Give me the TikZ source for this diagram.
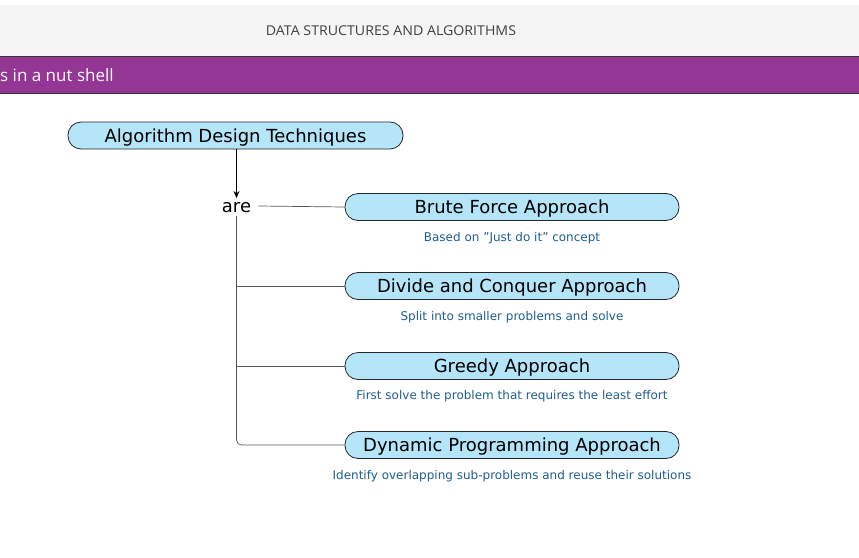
\documentclass[tikz,border=0pt]{standalone}
\usepackage{fontspec}
\setmainfont{DejaVu Sans}
\newfontfamily\headfont[FakeStretch=1.05]{Open Sans}
\newfontfamily\subfont{Open Sans}
\usetikzlibrary{arrows.meta}
\definecolor{nodefill}{HTML}{B5E5F9}
\definecolor{purpleband}{HTML}{943694}
\definecolor{descblue}{HTML}{1F5E8E}
\definecolor{linegray}{HTML}{555555}
\tikzset{
  x=1pt, y=-1pt,
  concept/.style={draw=black!85, fill=nodefill, rounded corners=13pt, minimum width=334pt, minimum height=27pt, inner sep=0pt, text height=13.5pt, text depth=0pt, font=\fontsize{18}{20}\selectfont, line width=0.8pt},
  desc/.style={text=descblue, font=\fontsize{12}{14}\selectfont, inner sep=0pt},
  link/.style={draw=linegray, line width=0.7pt},
}
\begin{document}
\begin{tikzpicture}
\useasboundingbox (0,0) rectangle (859,557);
\fill[white] (0,0) rectangle (859,557);
% header
\fill[black!4] (0,5) rectangle (859,56);
\node[text=black!75, font=\headfont\fontsize{13.5}{15}\selectfont] (hdr) at (391,31) {DATA STRUCTURES AND ALGORITHMS};
\fill[purpleband] (0,56) rectangle (859,93);
\draw[black!80, line width=0.8pt] (0,56) -- (859,56);
\draw[black!80, line width=0.8pt] (0,93) -- (859,93);
\node[anchor=west, text=white, font=\subfont\fontsize{17}{18}\selectfont, inner sep=0pt] (sub) at (0,75) {s in a nut shell};
% nodes
\node[concept, minimum width=335pt] (adt) at (235.5,135.5) {Algorithm Design Techniques};
\node[font=\fontsize{18}{20}\selectfont, inner sep=1pt, text height=13.5pt, text depth=0pt] (are) at (236.5,206) {are};
\node[concept] (bf) at (512,207) {Brute Force Approach};
\node[concept] (dc) at (512,286) {Divide and Conquer Approach};
\node[concept] (gr) at (512,366) {Greedy Approach};
\node[concept] (dp) at (512,445) {Dynamic Programming Approach};
\node[desc] (d1) at (512,238.5) {Based on \symbol{34}Just do it\symbol{34} concept};
\node[desc] (d2) at (512,317.5) {Split into smaller problems and solve};
\node[desc] (d3) at (512,396.5) {First solve the problem that requires the least effort};
\node[desc] (d4) at (512,476.5) {Identify overlapping sub-problems and reuse their solutions};
% connectors
\draw[black, line width=0.8pt, -{Stealth[length=7pt,width=6pt]}] (adt.south -| are) -- (are.north);
\draw[link] ([xshift=6pt]are.east) -- (bf.west);
\draw[link, rounded corners=5pt] ([yshift=-2pt]are.south) -- (are.south |- dp.west) -- (dp.west);
\draw[link] (are.south |- dc.west) -- (dc.west);
\draw[link] (are.south |- gr.west) -- (gr.west);
\end{tikzpicture}
\end{document}
